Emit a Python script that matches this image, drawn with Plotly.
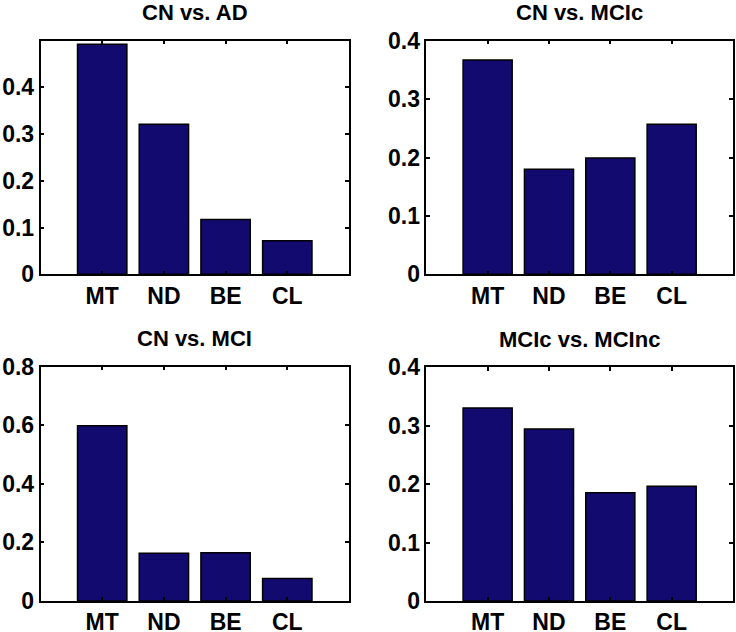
import plotly.graph_objects as go

categories = ["MT", "ND", "BE", "CL"]
titles = ["CN vs. AD", "CN vs. MCIc", "CN vs. MCI", "MCIc vs. MCInc"]
values_ad = [0.492, 0.321, 0.117, 0.072]
values_mcic = [0.367, 0.180, 0.199, 0.257]
values_mci = [0.598, 0.163, 0.165, 0.077]
values_mcinc = [0.330, 0.294, 0.185, 0.196]
all_values = [values_ad, values_mcic, values_mci, values_mcinc]
y_max = [0.5, 0.4, 0.8, 0.4]
y_ticks = [[0, 0.1, 0.2, 0.3, 0.4], [0, 0.1, 0.2, 0.3, 0.4],
           [0, 0.2, 0.4, 0.6, 0.8], [0, 0.1, 0.2, 0.3, 0.4]]

W, H = 736, 632
# pixel boxes: x0, x1, ytop, ybottom
boxes = [(40.5, 349, 40.5, 274.3), (426.3, 733, 40.7, 274.3),
         (40.5, 349, 366.7, 601), (426.3, 733, 367, 601)]

BAR = "#130A70"
FONT = "Liberation Sans, Arial, sans-serif"

fig = go.Figure()
layout = dict(width=W, height=H, margin=dict(l=0, r=0, t=0, b=0, autoexpand=False),
              paper_bgcolor="white", plot_bgcolor="white", showlegend=False,
              annotations=[])

for i, vals in enumerate(all_values):
    n = "" if i == 0 else str(i + 1)
    fig.add_trace(go.Bar(x=[1, 2, 3, 4], y=vals, width=0.8,
                         marker=dict(color=BAR, line=dict(color="black", width=1.5)),
                         xaxis="x" + n, yaxis="y" + n))
    x0, x1, yt, yb = boxes[i]
    layout["xaxis" + n] = dict(
        domain=[x0 / W, x1 / W], range=[0, 5], anchor="y" + n, automargin=False,
        tickvals=[1, 2, 3, 4], ticktext=categories,
        ticks="inside", ticklen=4, tickwidth=1.5, tickcolor="black",
        showline=True, linecolor="black", linewidth=1.5, mirror="ticks",
        showgrid=False, zeroline=False, ticklabelstandoff=0,
        tickfont=dict(family=FONT, size=23, color="black", weight="bold"))
    layout["yaxis" + n] = dict(
        domain=[1 - yb / H, 1 - yt / H], range=[0, y_max[i]], anchor="x" + n,
        automargin=False,
        tickvals=y_ticks[i], ticktext=[("0" if v == 0 else f"{v:g}") for v in y_ticks[i]],
        ticks="inside", ticklen=4, tickwidth=1.5, tickcolor="black",
        showline=True, linecolor="black", linewidth=1.5, mirror="ticks",
        showgrid=False, zeroline=False, ticklabelstandoff=0,
        tickfont=dict(family=FONT, size=23, color="black", weight="bold"))
    layout["annotations"].append(dict(
        text="<b>" + titles[i] + "</b>", x=(x0 + x1) / 2 / W, y=1 - (yt - 28) / H,
        xref="paper", yref="paper", xanchor="center", yanchor="middle",
        showarrow=False, font=dict(family=FONT, size=22, color="black")))

fig.update_layout(**layout)
fig.write_html("out.html", config={"displayModeBar": False},
               post_script="document.body.style.margin='0';document.body.style.overflow='hidden';")
